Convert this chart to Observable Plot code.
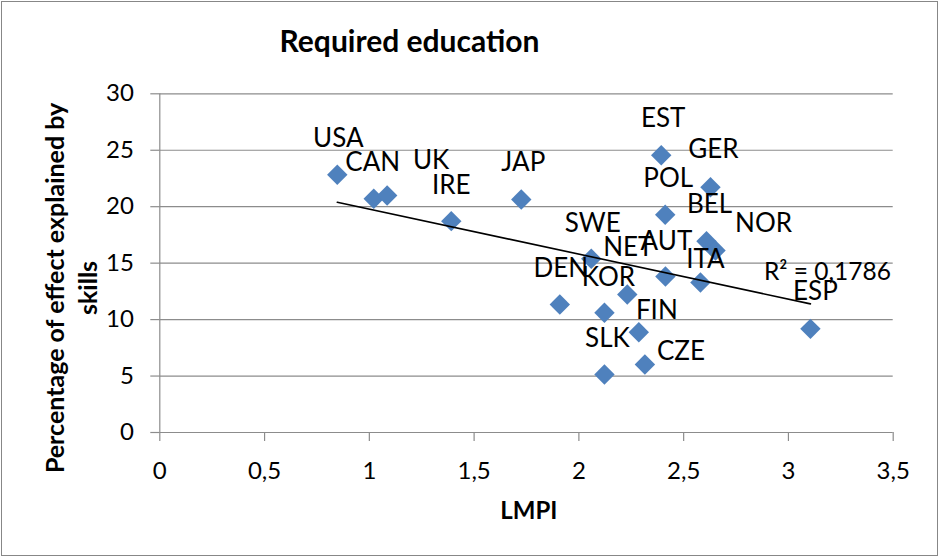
<!DOCTYPE html>
<html>
<head>
<meta charset="utf-8">
<script src="https://cdn.jsdelivr.net/npm/d3@7"></script>
<script src="https://cdn.jsdelivr.net/npm/@observablehq/plot@0.6"></script>
<style>
  html, body { margin: 0; padding: 0; background: #fff; }
  #wrap { position: relative; width: 939px; height: 557px; overflow: hidden; }
  #frame { position: absolute; left: 1px; top: 1px; width: 935px; height: 553px; border: 1px solid #878787; pointer-events: none; }
  #wrap svg { position: absolute; left: 0; top: 0; }
</style>
</head>
<body>
<div id="wrap"><div id="frame"></div></div>
<script>
// ---- data ----
const countries = ["USA","CAN","UK","IRE","JAP","EST","GER","POL","BEL","NOR","SWE","NET","AUT","ITA","DEN","KOR","FIN","CZE","SLK","ESP"];
const lmpi = [0.847,1.021,1.085,1.391,1.725,2.393,2.628,2.412,2.609,2.652,2.059,2.231,2.413,2.580,1.909,2.122,2.286,2.315,2.122,3.105];
const skillsShare = [22.83,20.70,20.99,18.72,20.64,24.56,21.73,19.28,16.94,16.12,15.39,12.22,13.82,13.29,11.34,10.60,8.88,6.02,5.14,9.18];
const xTicks = [0, 0.5, 1, 1.5, 2, 2.5, 3, 3.5];
const yTicks = [0, 5, 10, 15, 20, 25, 30];
const titleText = "Required education";
const xLabel = "LMPI";
const yLabel = "Percentage of effect explained by\nskills";
const r2Label = "R² = 0,1786";

// label placement (pixels, relative to the marker), as in the reference
const labelOffsets = {
  USA:[1,-36], CAN:[-1,-36], UK:[44,-35], IRE:[0,-35], JAP:[2,-37], EST:[2,-37],
  GER:[3,-37], POL:[3,-36], BEL:[3,-37], NOR:[48,-27], SWE:[1.5,-35], NET:[1,-47],
  AUT:[1,-35], ITA:[5,-23], DEN:[1,-36], KOR:[4,-35], FIN:[18,-22], CZE:[36,-13],
  SLK:[3,-36], ESP:[5,-37]
};

const rows = countries.map((c, i) => ({country: c, lmpi: lmpi[i], share: skillsShare[i]}));

// least squares fit (used to anchor the R² note at the trendline's end)
const mx = d3.mean(lmpi), my = d3.mean(skillsShare);
const sxy = d3.sum(rows, d => (d.lmpi - mx) * (d.share - my));
const sxx = d3.sum(rows, d => (d.lmpi - mx) ** 2);
const slope = sxy / sxx, intercept = my - slope * mx;
const xEnd = d3.max(lmpi);
const r2Anchor = [{x: xEnd, y: intercept + slope * xEnd}];

const gridColor = "#8c8c8c";
const fmt = d => String(d).replace(".", ",");

const chart = Plot.plot({
  width: 939,
  height: 557,
  marginLeft: 159.3,
  marginRight: 46.3,
  marginTop: 93.3,
  marginBottom: 125,
  style: {fontFamily: "Lato, 'Open Sans', sans-serif", fontSize: "24px", color: "#000", background: "transparent", overflow: "visible"},
  x: {domain: [0, 3.5]},
  y: {domain: [0, 30]},
  marks: [
    Plot.gridY(yTicks, {stroke: gridColor, strokeOpacity: 1, strokeWidth: 1.2}),
    Plot.ruleX([0], {stroke: gridColor, strokeWidth: 1.2}),
    Plot.axisY({ticks: yTicks, tickSize: 9, tickPadding: 17, stroke: gridColor, strokeWidth: 1.2, fill: "#000", fontSize: 24, label: null}),
    Plot.axisX({ticks: xTicks, tickFormat: fmt, tickSize: 9, tickPadding: 20, stroke: gridColor, strokeWidth: 1.2, fill: "#000", fontSize: 24, label: null}),
    Plot.dot(rows, {x: "lmpi", y: "share", symbol: "diamond2", r: 9.2, fill: "#4F81BD", stroke: "none"}),
    Plot.linearRegressionY(rows, {x: "lmpi", y: "share", ci: 0, stroke: "#000", strokeWidth: 1.6}),
    ...rows.map(d => Plot.text([d], {
      x: "lmpi", y: "share", text: "country",
      dx: labelOffsets[d.country][0], dy: labelOffsets[d.country][1],
      fontSize: 26, fill: "#000"
    })),
    Plot.text(r2Anchor, {x: "x", y: "y", text: () => r2Label, dx: 17, dy: -32, fontSize: 24.5, fill: "#000"}),
    Plot.text([titleText], {frameAnchor: "top-left", dx: 249.7, dy: -42.3, textAnchor: "middle", lineAnchor: "bottom", fontSize: 30, fontWeight: "bold", fill: "#000"}),
    Plot.text([xLabel], {frameAnchor: "bottom-left", dx: 369, dy: 79, textAnchor: "middle", lineAnchor: "middle", fontSize: 24, fontWeight: "bold", fill: "#000"}),
    Plot.text([yLabel], {frameAnchor: "left", dx: -89.8, dy: 24.8, rotate: -90, textAnchor: "middle", lineAnchor: "middle", lineHeight: 1.3, fontSize: 25, fontWeight: "bold", fill: "#000"})
  ]
});
document.getElementById("wrap").appendChild(chart);
</script>
</body>
</html>
